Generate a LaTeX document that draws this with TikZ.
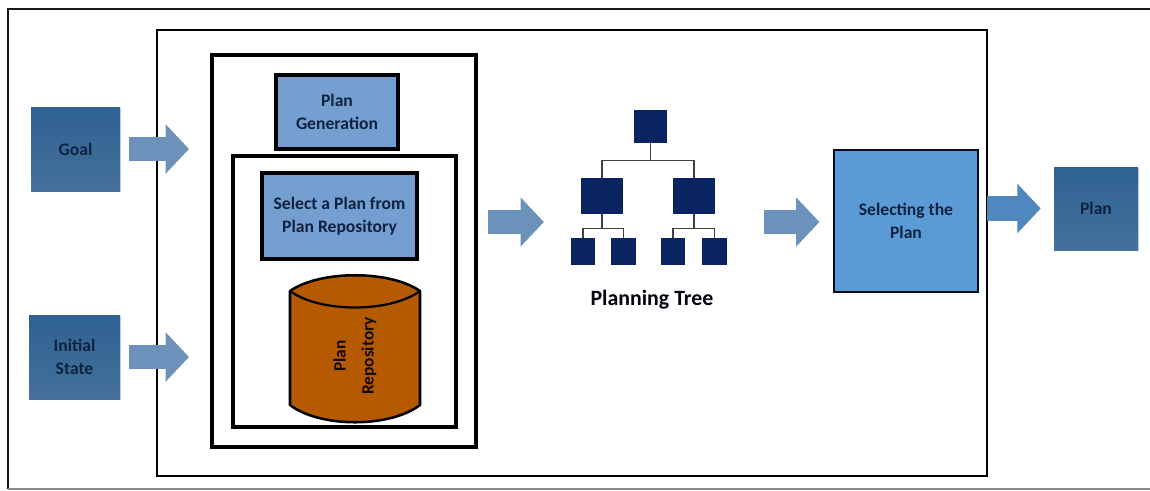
\documentclass[tikz,border=0pt]{standalone}
\usepackage{fontspec}
\setmainfont{Carlito}[Scale=1]
\usetikzlibrary{arrows.meta,shadows,positioning,calc}
\definecolor{txt}{HTML}{0F2240}
\definecolor{goaltop}{HTML}{2F6292}
\definecolor{goalbot}{HTML}{44709C}
\definecolor{steel}{HTML}{759FD0}
\definecolor{sel}{HTML}{5B9BD5}
\definecolor{rust}{HTML}{B55A00}
\definecolor{navy}{HTML}{0A2462}
\definecolor{arrowa}{HTML}{6C92BC}
\definecolor{arrowb}{HTML}{4F88BE}
\tikzset{
  x=0.75pt,y=-0.75pt,
  frame/.style={draw=black,fill=white,line width=2.2pt,inner sep=0pt},
  boxlabel/.style={font=\bfseries\fontsize{13.2}{17.5}\selectfont,text=txt,align=center,inner sep=0pt},
  inputbox/.style={boxlabel,top color=goaltop,bottom color=goalbot,draw=none,drop shadow={shadow xshift=1pt,shadow yshift=-1pt,opacity=.25,fill=goalbot}},
  stepbox/.style={boxlabel,fill=steel,draw=black,line width=2.4pt},
  selbox/.style={boxlabel,fill=sel,draw=black!70!navy,line width=0.9pt,drop shadow={shadow xshift=1pt,shadow yshift=-1pt,opacity=.25,fill=goalbot}},
  treebox/.style={fill=navy,draw=none,inner sep=0pt},
  treeline/.style={draw=black!75,line width=1.1pt},
  blockarrow/.style={line width=18.5pt,draw=arrowa,-{Triangle[length=17.5pt,width=36pt,sep=0pt]}},
}
\begin{document}
\begin{tikzpicture}
\useasboundingbox (0,0) rectangle (1150,490);
\fill[white] (0,0) rectangle (1150,490);
% frames
\coordinate (olt) at (8,9);
\coordinate (olb) at (8,489);
\coordinate (ort) at (1150,9);
\coordinate (orb) at (1150,489);
\draw[black!90,line width=1.9pt] (olb) -- (olt) -- (ort);
\draw[black!45,line width=0.8pt] (olb) -- (orb);
\node[frame,line width=1.9pt,minimum width=830*0.75pt,minimum height=446*0.75pt] (main) at (572,253) {};
\node[frame,line width=2.8pt,minimum width=264*0.75pt,minimum height=392*0.75pt] (gen) at (344,251) {};
\node[frame,line width=2.8pt,minimum width=223*0.75pt,minimum height=271*0.75pt] (repo) at (344.5,291.5) {};
% input boxes
\node[inputbox,minimum width=89*0.75pt,minimum height=84*0.75pt] (goal) at (75.5,149) {Goal};
\node[inputbox,minimum width=91*0.75pt,minimum height=84*0.75pt] (init) at (74.5,357) {Initial\\State};
% plan generation
\node[stepbox,minimum width=122*0.75pt,minimum height=74*0.75pt] (pg) at (337,112) {Plan\\Generation};
\node[stepbox,minimum width=155*0.75pt,minimum height=86*0.75pt] (sp) at (339.5,216) {Select a Plan from\\Plan Repository};
% cylinder
\filldraw[fill=rust,draw=black,line width=1.9pt,line join=round]
  (290,291) .. controls (320,270) and (390,270) .. (420,291)
  -- (420,405) .. controls (390,428) and (320,428) .. (290,405) -- cycle;
\draw[black,line width=1.7pt] (290,291) .. controls (320,313) and (390,313) .. (420,291);
\coordinate (cyl) at (355,356);
\node[boxlabel,rotate=90,text=black!90!rust,font=\bfseries\fontsize{13}{21}\selectfont] (cyltext) at (cyl) {Plan\\Repository};
% tree
\node[treebox,minimum width=33*0.75pt,minimum height=33*0.75pt] (root) at (650.5,126.5) {};
\node[treebox,minimum width=42*0.75pt,minimum height=36*0.75pt] (m1) at (602,196) {};
\node[treebox,minimum width=42*0.75pt,minimum height=36*0.75pt] (m2) at (694,196) {};
\node[treebox,minimum width=24*0.75pt,minimum height=27*0.75pt] (l1) at (583,251.5) {};
\node[treebox,minimum width=25*0.75pt,minimum height=27*0.75pt] (l2) at (623.5,251.5) {};
\node[treebox,minimum width=24*0.75pt,minimum height=27*0.75pt] (l3) at (673,251.5) {};
\node[treebox,minimum width=25*0.75pt,minimum height=27*0.75pt] (l4) at (714.5,251.5) {};
\draw[treeline] (root.south) -- ++(0,17) coordinate (bus);
\draw[treeline] (m1.north) |- (bus) -| (m2.north);
\draw[treeline] (m1.south) -- ++(0,14) coordinate (busl);
\draw[treeline] (l1.north) |- (busl) -| (l2.north);
\draw[treeline] (m2.south) -- ++(0,14) coordinate (busr);
\draw[treeline] (l3.north) |- (busr) -| (l4.north);
\node[font=\bfseries\fontsize{16.4}{18}\selectfont,text=black!85!navy,inner sep=0pt] (ptlabel) at (652,300) {Planning Tree};
% right boxes
\node[selbox,minimum width=144*0.75pt,minimum height=142*0.75pt] (choose) at (906,221) {Selecting the\\Plan};
\node[inputbox,minimum width=84*0.75pt,minimum height=83*0.75pt] (plan) at (1096,208.5) {Plan};
% arrows
\coordinate (e1) at (189,149);
\coordinate (e2) at (189,357);
\draw[blockarrow,shorten <=6.75pt] (goal.east) -- (e1);
\draw[blockarrow,shorten <=6.75pt] (init.east) -- (e2);
\draw[blockarrow,shorten <=7.5pt] ($(gen.east)+(0,-29)$) -- ($(gen.east)+(66,-29)$);
\draw[blockarrow,shorten <=20.25pt,shorten >=10.5pt] ($(choose.west)+(-96,1)$) -- ($(choose.west)+(0,1)$);
\draw[blockarrow,draw=arrowb,shorten <=6pt,shorten >=9.75pt] (choose.east |- plan.west) -- (plan.west);
\end{tikzpicture}
\end{document}
